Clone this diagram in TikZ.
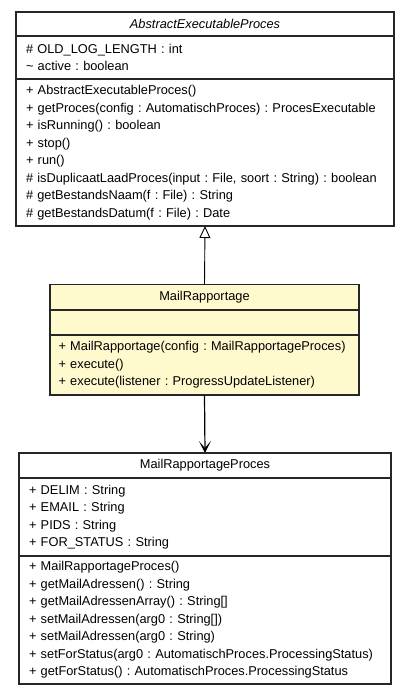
\documentclass[tikz,border=0pt]{standalone}
\usepackage{fontspec}
\newfontfamily\umlfont{Liberation Sans}
\usepackage{tikz}
\usetikzlibrary{arrows.meta,positioning}
\definecolor{lemon}{RGB}{255,250,205}
\newcommand{\umltext}{\umlfont\fontsize{12.8}{17.5}\selectfont\frenchspacing\spaceskip=4.1pt\relax\hyphenpenalty=10000\relax}

\begin{document}
\begin{tikzpicture}[x=1pt, y=-1pt,
	box/.style={draw=black!85, line width=1.1pt, outer sep=0pt, inner xsep=10pt, inner ysep=0pt, align=left, font=\umltext},
	title/.style={box, align=center}]
	\useasboundingbox (0,0) rectangle (409,696);
	% AbstractExecutableProces
	\node[title, anchor = north west, text width=358pt, minimum height=24pt] at (16, 12) (aep) {\itshape AbstractExecutableProces};
	\node[box, below = 0pt of aep, text width=358pt, minimum height=43pt] (aepattr) {\# OLD\_LOG\_LENGTH : int\\ \textasciitilde\ active : boolean};
	\node[box, below = 0pt of aepattr, text width=358pt, minimum height=147pt] (aepops) {+ AbstractExecutableProces()\\
		+ getProces(config : AutomatischProces) : ProcesExecutable\\
		+ isRunning() : boolean\\
		+ stop()\\
		+ run()\\
		\# isDuplicaatLaadProces(input : File, soort : String) : boolean\\
		\# getBestandsNaam(f : File) : String\\
		\# getBestandsDatum(f : File) : Date};
	% MailRapportage
	\node[title, fill=lemon, anchor = north west, inner xsep=8.5pt, text width=292pt, minimum height=25.5pt] at (50, 284.5) (mr) {MailRapportage};
	\node[box, fill=lemon, below = 0pt of mr, inner xsep=8.5pt, text width=292pt, minimum height=25pt] (mrattr) {};
	\node[box, fill=lemon, below = 0pt of mrattr, inner xsep=8.5pt, text width=292pt, minimum height=60pt] (mrops) {+ MailRapportage(config : MailRapportageProces)\\
		+ execute()\\
		+ execute(listener : ProgressUpdateListener)};
	% MailRapportageProces
	\node[title, anchor = north west, text width=352pt, minimum height=25pt] at (19, 453) (mrp) {MailRapportageProces};
	\node[box, below = 0pt of mrp, text width=352pt, minimum height=78pt] (mrpattr) {+ DELIM : String\\
		+ EMAIL : String\\
		+ PIDS : String\\
		+ FOR\_STATUS : String};
	\node[box, below = 0pt of mrpattr, text width=352pt, minimum height=128pt] (mrpops) {+ MailRapportageProces()\\
		+ getMailAdressen() : String\\
		+ getMailAdressenArray() : String[]\\
		+ setMailAdressen(arg0 : String[])\\
		+ setMailAdressen(arg0 : String)\\
		+ setForStatus(arg0 : AutomatischProces.ProcessingStatus)\\
		+ getForStatus() : AutomatischProces.ProcessingStatus};
	% Arrows
	\draw[line width=0.9pt, -{Triangle[open, length=12pt, width=11pt, fill=white]}] (mr.north) -- (aepops.south);
	\draw[line width=1.2pt, -{Stealth[length=12pt, width=12pt, inset=7pt]}] (mrops.south) -- (mrp.north);
\end{tikzpicture}
\end{document}
